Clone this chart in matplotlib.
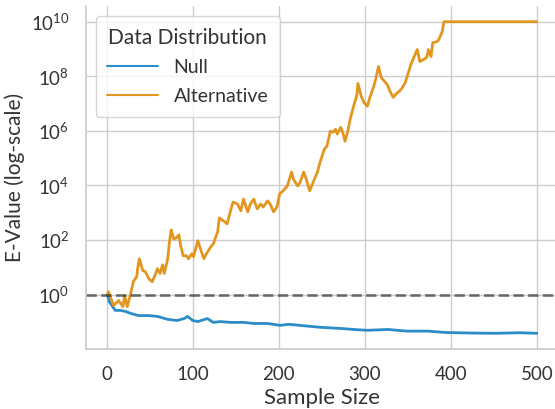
import numpy as np
import matplotlib
matplotlib.use("Agg")
import matplotlib.pyplot as plt
import seaborn as sns

# sample sizes and log10 e-values
alt_n = [1, 2, 8, 14, 19, 21, 24, 28, 31, 35, 36, 38, 42, 45, 49, 53, 57, 59, 62, 65,
         67, 71, 73, 75, 78, 81, 84, 86, 89, 93, 95, 99, 101, 106, 109, 113, 116, 121,
         124, 129, 131, 136, 140, 144, 147, 152, 156, 159, 164, 167, 171, 175, 179,
         182, 187, 190, 194, 198, 201, 205, 210, 215, 217, 222, 225, 229, 232, 236,
         240, 245, 248, 253, 256, 260, 263, 266, 268, 272, 275, 277, 280, 283, 287,
         291, 292, 296, 299, 303, 306, 310, 312, 316, 319, 323, 326, 330, 333, 336,
         340, 343, 347, 350, 354, 357, 361, 364, 368, 372, 374, 377, 379, 384, 386,
         390, 392, 500]
alt_log10 = [0.0, 0.11, -0.40, -0.22, -0.44, -0.04, -0.44, 0.04, 0.47, 0.66, 0.95, 1.31,
             0.88, 0.84, 0.58, 0.47, 0.77, 0.95, 0.77, 1.09, 0.77, 1.31, 1.93, 2.37,
             2.04, 2.08, 2.19, 1.79, 1.42, 1.42, 1.31, 1.50, 1.39, 1.97, 1.68, 1.31,
             1.50, 1.75, 1.86, 2.30, 2.81, 2.70, 2.59, 3.07, 3.39, 3.32, 3.07, 3.50,
             3.03, 3.32, 3.50, 3.14, 3.32, 3.21, 3.43, 3.32, 3.03, 3.21, 3.69, 3.80,
             3.98, 4.49, 4.23, 3.98, 4.12, 4.49, 4.23, 3.80, 4.12, 4.49, 4.85, 5.33,
             5.44, 5.99, 5.95, 6.06, 5.88, 6.13, 5.88, 5.62, 5.95, 6.42, 6.90, 7.34,
             7.74, 7.26, 7.04, 6.90, 7.23, 7.59, 7.81, 8.36, 7.96, 7.81, 7.70, 7.41,
             7.23, 7.34, 7.45, 7.55, 7.77, 8.07, 8.47, 8.69, 8.98, 8.54, 8.61, 8.69,
             8.98, 8.72, 9.23, 9.27, 9.34, 9.64, 10.0, 10.0]

null_n = [1, 3, 7, 10, 16, 22, 28, 37, 48, 59, 71, 82, 90, 94, 100, 106, 117, 124, 132,
          144, 159, 171, 187, 202, 211, 225, 248, 271, 287, 303, 327, 349, 373, 394,
          423, 452, 480, 500]
null_log10 = [0.0, -0.26, -0.44, -0.58, -0.58, -0.62, -0.69, -0.77, -0.77, -0.80, -0.91,
              -0.95, -0.88, -0.80, -0.95, -0.99, -0.88, -1.02, -0.99, -1.02, -1.02,
              -1.06, -1.06, -1.13, -1.09, -1.13, -1.20, -1.24, -1.28, -1.31, -1.28,
              -1.34, -1.34, -1.39, -1.41, -1.42, -1.40, -1.42]

sns.set_theme(style="whitegrid", palette="colorblind")
plt.rcParams["font.family"] = ["Lato", "DejaVu Sans"]
plt.rcParams["mathtext.fontset"] = "custom"
plt.rcParams["mathtext.rm"] = "Lato"
plt.rcParams["mathtext.it"] = "Lato:italic"

fig = plt.figure(figsize=(5.55, 4.09), dpi=100)
ax = fig.add_axes([0.155, 0.147, 0.851, 0.838])

ax.plot(null_n, np.power(10.0, null_log10), color="#2a8cc8", lw=2.0, label="Null")
ax.plot(alt_n, np.power(10.0, alt_log10), color="#e3961f", lw=2.0, label="Alternative")
ax.axhline(1, color="black", alpha=0.5, ls="--", lw=2)

ax.set_yscale("log")
ax.set_yticks([10.0**k for k in range(0, 11, 2)])
ax.minorticks_off()
ax.set_xticks([0, 100, 200, 300, 400, 500])
ax.tick_params(labelsize=13.5, colors="#333333", pad=6)
ax.set_xlabel("Sample Size", fontsize=16, color="#333333")
ax.set_ylabel("E-Value (log-scale)", fontsize=15, color="#333333")
sns.despine(ax=ax)

leg = ax.legend(title="Data Distribution", loc="upper left", fontsize=14,
                title_fontsize=15, handlelength=2.6, labelspacing=0.6,
                borderpad=0.6, bbox_to_anchor=(0.0, 1.0))
for t in leg.get_texts():
    t.set_color("#333333")
for h in leg.get_lines():
    h.set_linewidth(1.5)
leg.get_title().set_color("#333333")

fig.savefig("out.png", dpi=100)
